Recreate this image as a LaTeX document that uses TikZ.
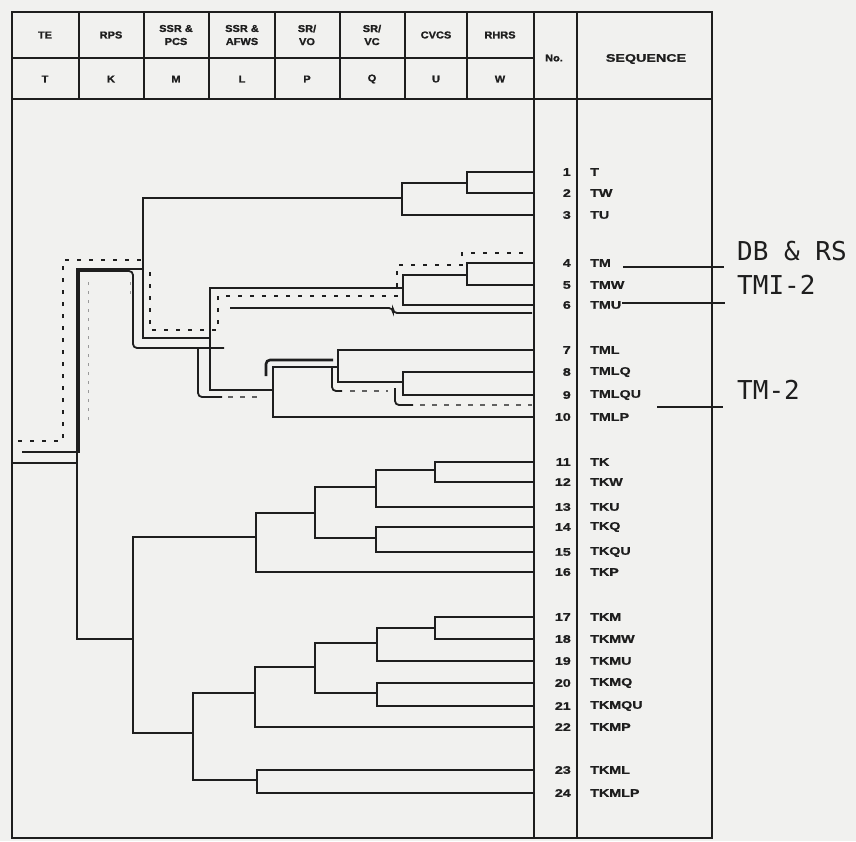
\documentclass[tikz,border=0pt]{standalone}
\usepackage{fontspec}
\setmainfont{Liberation Sans}
\newfontfamily\tabfont[FakeStretch=1.3,FakeBold=1.2]{Liberation Sans}
\newfontfamily\hdrfont[FakeStretch=1.1,FakeBold=1.2]{Liberation Sans}
\newfontfamily\notefont{DejaVu Sans Mono}
\usepackage{tikz}
\usetikzlibrary{positioning}
\definecolor{paper}{RGB}{241,241,239}
\definecolor{ink}{RGB}{30,30,30}

\begin{document}
\begin{tikzpicture}[
    x=1pt, y=-1pt,
    frame/.style={draw=ink, line width=1.7pt},
    branch/.style={draw=ink, line width=1.9pt},
    hdr/.style={font=\hdrfont\bfseries\fontsize{10}{13}\selectfont, text=ink, align=center, inner sep=0pt},
    num/.style={font=\tabfont\bfseries\fontsize{11}{12}\selectfont, text=ink, anchor=east, inner sep=0pt},
    seq/.style={font=\tabfont\bfseries\fontsize{11}{12}\selectfont, text=ink, anchor=west, inner sep=0pt},
    ddash/.style={draw=ink, line width=2.3pt, dash pattern=on 4pt off 8pt},
    sline/.style={draw=ink, line width=1.8pt, rounded corners=4pt},
    lightdash/.style={draw=ink!70, line width=1.1pt, dash pattern=on 5pt off 7pt},
    faint/.style={draw=ink!45, line width=0.8pt, dash pattern=on 3pt off 6pt},
    note/.style={font=\notefont\fontsize{26}{28}\selectfont, text=ink, anchor=west, inner sep=0pt},
    pointer/.style={draw=ink, line width=1.5pt}
]
    \fill[paper] (0,0) rectangle (856,841);
    \useasboundingbox (0,0) rectangle (856,841);

    % Table frame
    \draw[frame] (12,12) rectangle (712,838);
    \draw[frame] (12,99) -- (712,99);
    \draw[frame] (12,58) -- (534,58);
    \foreach \x in {79,144,209,275,340,405,467}
        \draw[frame] (\x,12) -- (\x,99);
    \draw[frame] (534,12) -- (534,838);
    \draw[frame] (577,12) -- (577,838);

    % Header: systems and event letters
    \foreach \n/\x/\top/\bot in {T/45/TE/T, K/111/RPS/K, M/176/{SSR \&\\PCS}/M,
        L/242/{SSR \&\\AFWS}/L, P/307/{SR/\\VO}/P, Q/372/{SR/\\VC}/Q,
        U/436/CVCS/U, W/500/RHRS/W} {
        \node[hdr] (h\n) at (\x,35) {\top};
        \node[hdr] (e\n) at (\x,79) {\bot};
    }
    \node[hdr] (hNo) at (554,58) {No.};
    \node[seq, anchor=center] (hSeq) at (646,59) {SEQUENCE};

    % Sequences
    \foreach \i/\y/\s in {1/172/T, 2/193/TW, 3/215/TU, 4/263/TM, 5/285/TMW, 6/305/TMU,
        7/350/TML, 8/372/TMLQ, 9/395/TMLQU, 10/417/TMLP, 11/462/TK, 12/482/TKW,
        13/507/TKU, 14/527/TKQ, 15/552/TKQU, 16/572/TKP, 17/617/TKM, 18/639/TKMW,
        19/661/TKMU, 20/683/TKMQ, 21/706/TKMQU, 22/727/TKMP, 23/770/TKML, 24/793/TKMLP} {
        \coordinate (f\i) at (534,\y);
        \node[num] (n\i) at (571,\y) {\i};
        \node[seq] (s\i) at (590,\y) {\s};
    }

    % Branch points
    \coordinate (r0) at (12,463);
    \coordinate (k0) at (77,463);
    \coordinate (m1) at (143,269);
    \coordinate (m2) at (133,639);
    \coordinate (u1) at (402,198);
    \coordinate (w1) at (467,183);
    \coordinate (l1) at (210,338);
    \coordinate (u2) at (403,288);
    \coordinate (w2) at (467,275);
    \coordinate (p1) at (273,390);
    \coordinate (q1) at (338,367);
    \coordinate (u3) at (403,382);
    \coordinate (l2) at (256,537);
    \coordinate (p2) at (315,513);
    \coordinate (q2) at (376,487);
    \coordinate (u4) at (435,470);
    \coordinate (q3) at (376,538);
    \coordinate (l3) at (193,733);
    \coordinate (p3) at (255,693);
    \coordinate (q4) at (315,667);
    \coordinate (u5) at (377,643);
    \coordinate (w3) at (435,628);
    \coordinate (u6) at (377,693);
    \coordinate (p4) at (257,780);

    % Event tree
    \draw[branch] (r0) -- (k0);
    \foreach \a/\b in {k0/m1, k0/m2, m1/u1, m1/l1, u1/w1, u1/f3, w1/f1, w1/f2,
        l1/u2, l1/p1, u2/w2, u2/f6, w2/f4, w2/f5, p1/q1, p1/f10, q1/f7, q1/u3,
        u3/f8, u3/f9, m2/l2, m2/l3, l2/p2, l2/f16, p2/q2, p2/q3, q2/u4, q2/f13,
        u4/f11, u4/f12, q3/f14, q3/f15, l3/p3, l3/p4, p3/q4, p3/f22, q4/u5, q4/u6,
        u5/w3, u5/f19, w3/f17, w3/f18, u6/f20, u6/f21, p4/f23, p4/f24}
        \draw[branch] (\a) |- (\b);

    % Marked sequences
    \draw[ddash] (18,441) -- (63,441) -- (63,260) -- (143,260);
    \draw[ddash] (150,272) -- (150,330) -- (218,330) -- (218,296) -- (397,296)
        -- (397,265) -- (462,265) -- (462,253) -- (528,253);
    \draw[draw=ink, line width=1.8pt] (22,452) -- (79,452) -- (79,271) -- (128,271);
    \draw[sline] (128,271) -- (133,271) -- (133,348) -- (224,348);
    \draw[faint] (88,420) -- (88,280);
    \draw[faint] (130,282) -- (130,298);
    \draw[sline] (230,308) -- (393,308) -- (393,313) -- (532,313);
    \draw[sline] (198,348) -- (198,397) -- (222,397);
    \draw[lightdash] (228,397) -- (262,397);
    \draw[sline, line width=2.6pt] (266,376) -- (266,360) -- (333,360);
    \draw[sline] (332,367) -- (332,391) -- (342,391);
    \draw[lightdash] (350,391) -- (388,391);
    \draw[sline] (395,388) -- (395,405) -- (413,405);
    \draw[lightdash] (420,405) -- (532,405);

    % Accident labels
    \node[note] (dbrs) at (737,251) {DB \& RS};
    \node[note] (tmi) at (737,285) {TMI-2};
    \node[note] (tmtwo) at (737,390) {TM-2};
    \coordinate (c4a) at (623,267);
    \coordinate (c4b) at (724,267);
    \coordinate (c6a) at (622,303);
    \coordinate (c6b) at (725,303);
    \coordinate (c9a) at (657,407);
    \coordinate (c9b) at (723,407);
    \draw[pointer] (c4a) -- (c4b);
    \draw[pointer] (c6a) -- (c6b);
    \draw[pointer] (c9a) -- (c9b);
\end{tikzpicture}
\end{document}
